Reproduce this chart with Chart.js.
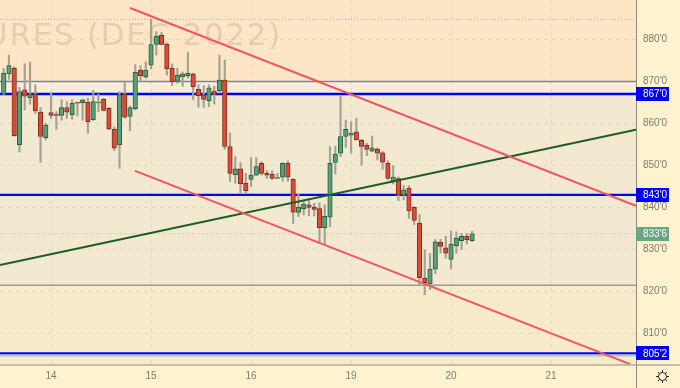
<!DOCTYPE html>
<html>
<head>
<meta charset="utf-8">
<style>
  html, body { margin: 0; padding: 0; background: #fff2cf; overflow: hidden; }
  #wrap { position: absolute; left: 0; top: 0; width: 680px; height: 388px; overflow: hidden; }
  #chart { position: absolute; left: 0; top: -8px; }
</style>
<script src="https://cdn.jsdelivr.net/npm/chart.js@4"></script>
</head>
<body>
<div id="wrap"><canvas id="chart" width="680" height="396"></canvas></div>
<script>
// one entry per session bar
const opens = [867,871.8,873.1,854.9,868,866.1,867,862.7,856.6,862.6,862.2,861.9,863.8,862.1,865,864.9,865,860.9,864.9,865.8,863.6,858.6,854.9,867,861.7,863.5,872.7,871.1,873.9,878.8,881,878.9,873.1,870,871.1,871.4,871.8,868.1,866.7,865.4,867.7,867.8,870.3,854.5,847.8,849.2,845.8,846.7,847.7,850.5,848.1,847.9,846.9,847.2,850.5,846.7,838.8,839.7,840.6,840.1,839.7,835.2,837.7,850.7,852.9,856.9,857.2,858,856,854.8,853.4,853.9,853,850.5,846.2,846.9,843,844.6,840,836.3,823.2,821.8,825.3,831.7,830.4,827.6,830.9,832.1,833.1,832.1];
const highs = [873.1,876.3,873.5,868.6,874.2,874.6,869.2,863.8,860.1,867.2,862.8,865.6,865.2,865.6,865.1,865.8,866,867.8,867,866,863.8,859.2,867.6,869.9,864.2,874,873.8,874.7,884.8,881.9,881.7,879.1,874.2,873.1,872.3,876.9,872,869.2,869,869.2,868.9,876.3,875.1,857.7,852.1,850.7,848.1,851.9,851.9,850.9,848.8,848.7,848.1,850.7,851.1,846.9,843.1,841.8,841.8,841,841.1,840.6,854.5,854.6,866.5,860.8,860.4,861.2,856.2,855.3,857,854.2,853.3,851.1,849.9,847.3,845.2,845.2,840.2,838.3,829.9,829,832.4,832.4,833.2,834.4,834.2,833.8,833.8,834.3];
const lows = [866.8,870.5,856.9,853.2,863.2,864.6,862.3,850.7,856.1,861.2,858.6,860.8,861.2,861,861.8,860.8,857.7,860.7,862.8,862.9,858.5,853.5,849.3,861.2,858.3,863.2,870,870.7,873,876.3,878.7,871.5,869,869.6,868.8,870.8,865.6,863.8,863.8,864,864.6,867.2,853.9,846.2,845.8,843.4,843.4,845,847.5,847.7,846.9,846.7,846.9,846.2,846.2,836.2,837.8,838.2,838,838,831.5,831.1,835.4,848,852.1,854.3,852.9,856.1,850.1,852.3,853.3,851.3,849.1,846.7,845.6,841.6,841.8,837.4,835.9,821.6,819.2,820.5,824.2,829.1,827.9,825.3,829.1,830,831.3,831.9];
const closes = [872,873.8,857.1,867.6,866.5,867,863,856.9,859.6,861.9,861.9,863.8,862.7,864.8,864.8,865.6,860.4,865.2,865.1,863.1,858.7,854.1,866.8,861.5,863.8,872.2,871.4,872.7,878.8,880.8,878.8,873,869.9,871.5,871.8,872,868.7,866.6,865.7,868.5,867,870.3,854.5,848.1,849.2,845.6,844,847.7,849.7,848.1,847.7,846.9,847.1,850.5,847.2,838.9,840.1,840.8,840,839.5,835.2,837.9,850.5,852.7,856.9,858.6,857.7,856.1,854.5,853.8,854.2,852.9,850.8,846.9,847.2,843,844.2,839.2,836.9,823.3,822.1,825.3,831.8,830.7,829.1,831.2,832.7,833.1,832.3,833.7];

const dayLabels = ["14", "15", "16", "19", "20", "21"];
const dayBars = [9, 28, 47, 66, 85, 104];

const channelTopX = [24, 120.14];
const channelTopY = [887.5, 840.4];
const channelBottomX = [24.95, 119];
const channelBottomY = [848.7, 802.7];
const supportX = [-0.7, 120.14];
const supportY = [826.3, 858.5];

const blueLevels = [867, 843, 805.25];
const badgeLevels = [867, 843, 833.75, 805.25];
const badgeTexts = ["867'0", "843'0", "833'6", "805'2"];
const lastPrice = 833.75;

const xMin = -0.703, xMax = 120.14;
const yMin = 802.6, yMax = 891.3;
const canvasShift = 8;

const labelFont = "'Liberation Sans', sans-serif";
const tickColor = "#7f7b73";

const hLine = (level, color, width, dash) => ({
  type: "line",
  data: [{ x: xMin, y: level }, { x: xMax, y: level }],
  borderColor: color,
  borderWidth: width,
  borderDash: dash || [],
  pointRadius: 0,
  order: 5,
});

const slanted = (xs, ys, color, order) => ({
  type: "line",
  data: xs.map((x, i) => ({ x: x, y: ys[i] })),
  borderColor: color,
  borderWidth: 2,
  pointRadius: 0,
  order: order,
});

const isUp = (i) => closes[i] >= opens[i];

// zone fills, axis rules, watermark, price badges, settings icon
const decor = {
  id: "decor",
  beforeDraw(chart) {
    const { ctx, chartArea: a, scales: { y } } = chart;
    ctx.save();
    ctx.fillStyle = "#fff2cf";
    ctx.fillRect(0, 0, chart.width, chart.height);
    const y870 = y.getPixelForValue(870);
    const y867 = y.getPixelForValue(867);
    const y821 = y.getPixelForValue(821.5);
    ctx.fillStyle = "#fde6c5";
    ctx.fillRect(a.left, a.top, a.width, y870 - a.top);
    ctx.fillStyle = "#f6eed6";
    ctx.fillRect(a.left, y870, a.width, y867 - y870);
    ctx.fillStyle = "#f3e8d0";
    ctx.fillRect(a.left, y867, a.width, y821 - y867);
    ctx.fillStyle = "#f7ebc9";
    ctx.fillRect(a.left, y821, a.width, a.bottom - y821);
    ctx.restore();
  },
  beforeDatasetsDraw(chart) {
    const { ctx } = chart;
    ctx.save();
    ctx.font = "31px 'DejaVu Sans'";
    ctx.letterSpacing = "1.7px";
    ctx.textAlign = "right";
    ctx.fillStyle = "rgba(130,110,90,0.2)";
    ctx.fillText("FUTURES (DEC 2022)", 282, 45 + canvasShift);
    ctx.restore();
  },
  afterDraw(chart) {
    const { ctx, chartArea: a, scales: { y } } = chart;
    ctx.save();
    ctx.strokeStyle = "#8f8c7e";
    ctx.lineWidth = 1;
    ctx.beginPath();
    ctx.moveTo(a.right + 0.5, 0);
    ctx.lineTo(a.right + 0.5, chart.height);
    ctx.moveTo(0, a.bottom + 0.5);
    ctx.lineTo(chart.width, a.bottom + 0.5);
    ctx.stroke();

    ctx.font = "10px " + labelFont;
    ctx.textAlign = "left";
    ctx.textBaseline = "middle";
    badgeLevels.forEach((level, i) => {
      const py = y.getPixelForValue(level);
      ctx.fillStyle = level === lastPrice ? "#6aa584" : "#0000ff";
      ctx.fillRect(a.right, Math.round(py) - 7, 33, 14);
      ctx.fillStyle = "#ffffff";
      ctx.fillText(badgeTexts[i], a.right + 7, py + 0.5);
    });

    const cx = 662.5, cy = a.bottom + 12;
    ctx.strokeStyle = "#222222";
    ctx.lineWidth = 1;
    ctx.beginPath();
    ctx.arc(cx, cy, 4, 0, Math.PI * 2);
    for (let k = 0; k < 8; k++) {
      const t = (k * Math.PI) / 4;
      ctx.moveTo(cx + Math.cos(t) * 4, cy + Math.sin(t) * 4);
      ctx.lineTo(cx + Math.cos(t) * 6.5, cy + Math.sin(t) * 6.5);
    }
    ctx.stroke();
    ctx.restore();
  },
};

new Chart(document.getElementById("chart").getContext("2d"), {
  type: "bar",
  data: {
    datasets: [
      // candles: same stack so the body sits centred on its wick
      {
        stack: "candles",
        data: closes.map((c, i) => ({ x: i, y: [opens[i], c] })),
        backgroundColor: closes.map((c, i) => (isUp(i) ? "#5c9d7a" : "#dd4a35")),
        borderColor: closes.map((c, i) => (isUp(i) ? "#25603f" : "#7d2e22")),
        borderWidth: 1,
        borderSkipped: false,
        barThickness: 4.5,
        order: 2,
      },
      {
        stack: "candles",
        data: lows.map((l, i) => ({ x: i, y: [l, highs[i]] })),
        backgroundColor: "#a5a294",
        borderWidth: 0,
        barThickness: 1.5,
        order: 3,
      },
      // drawn levels
      hLine(884.8, "#b7ad98", 1, [1, 2]),
      hLine(870, "#7f7fb0", 1.5),
      hLine(821.5, "#a09c8b", 1.5),
      hLine(804.75, "#a9c4d0", 2),
      hLine(lastPrice, "#b9c4a3", 1, [1, 2]),
      ...blueLevels.map((level) => hLine(level, "#0000ff", 2.4)),
      slanted(supportX, supportY, "#1b5e20", 1),
      slanted(channelTopX, channelTopY, "#f7525f", 0),
      slanted(channelBottomX, channelBottomY, "#f7525f", 0),
    ],
  },
  options: {
    responsive: false,
    animation: false,
    events: [],
    plugins: { legend: { display: false }, tooltip: { enabled: false } },
    layout: { padding: 0 },
    scales: {
      x: {
        type: "linear",
        offset: false,
        min: xMin,
        max: xMax,
        grid: { offset: false, color: "#dfdccf", drawTicks: false },
        border: { display: false, dash: [4, 4] },
        afterBuildTicks(scale) {
          scale.ticks = dayBars.map((v) => ({ value: v }));
        },
        afterFit(scale) {
          scale.height = 23.5;
          scale.paddingLeft = 0;
          scale.paddingRight = 0;
        },
        ticks: {
          autoSkip: false,
          maxRotation: 0,
          padding: 6,
          color: tickColor,
          font: { family: labelFont, size: 10 },
          callback: (v) => dayLabels[dayBars.indexOf(v)],
        },
      },
      y: {
        position: "right",
        stacked: false,
        min: yMin,
        max: yMax,
        grid: { color: "#dfdccf", drawTicks: false },
        border: { display: false, dash: [4, 4] },
        afterFit(scale) {
          scale.width = 44;
          scale.paddingTop = 0;
          scale.paddingBottom = 0;
        },
        ticks: {
          stepSize: 10,
          includeBounds: false,
          autoSkip: false,
          padding: 7,
          color: tickColor,
          font: { family: labelFont, size: 10 },
          callback: (v) => v + "'0",
        },
      },
    },
  },
  plugins: [decor],
});
</script>
</body>
</html>
